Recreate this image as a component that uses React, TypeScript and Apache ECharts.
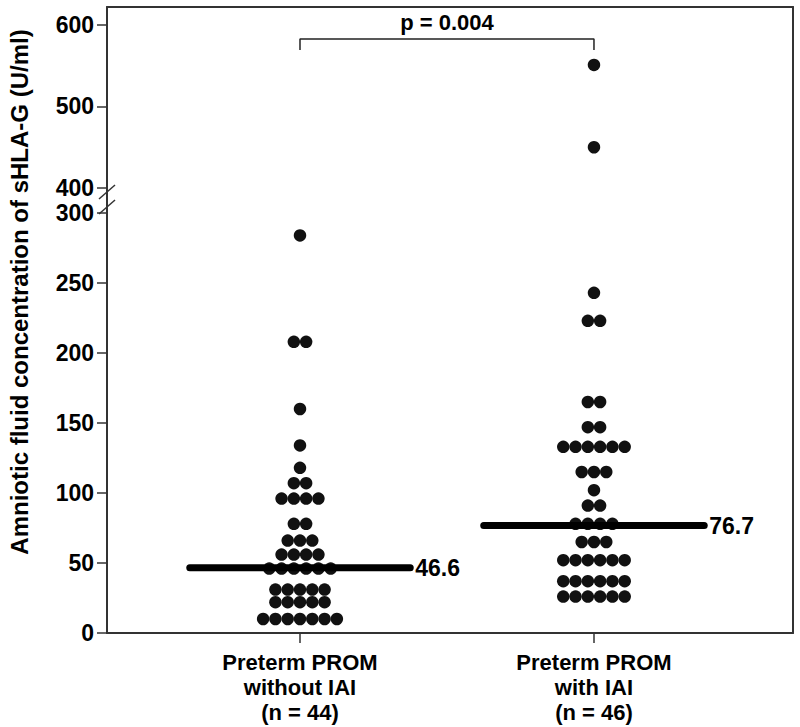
import React, { useEffect, useRef } from "react";
import * as echarts from "echarts";

// ---------- data ----------
const categories = [
  "Preterm PROM\nwithout IAI\n(n = 44)",
  "Preterm PROM\nwith IAI\n(n = 46)",
];
const groupWithoutIAI = [
  284, 208, 208, 160, 134, 118, 107, 107, 96, 96, 96, 96, 78, 78, 66, 66, 66,
  56, 56, 56, 56, 46, 46, 46, 46, 46, 46, 31, 31, 31, 31, 31, 22, 22, 22, 22,
  22, 10, 10, 10, 10, 10, 10, 10,
];
const groupWithIAI = [
  551, 450, 243, 223, 223, 165, 165, 147, 147, 133, 133, 133, 133, 133, 133,
  115, 115, 115, 102, 91, 91, 78, 78, 78, 78, 65, 65, 65, 52, 52, 52, 52, 52,
  52, 37, 37, 37, 37, 37, 37, 26, 26, 26, 26, 26, 26,
];
const medians = [46.6, 76.7];
const pValueText = "p = 0.004";
const upperTicks = [400, 500, 600];
const lowerTickInterval = 50;
const yTitle = "Amniotic fluid concentration of sHLA-G (U/ml)";

// ---------- layout constants ----------
const BREAK_LOW = 300;
const BREAK_HIGH = 400;
const UPPER_MIN = 369.3;
const UPPER_MAX = 622.1;
const X_MIN = 0.3435;
const X_MAX = 2.677;
const DOT_STEP = 0.0418;
const MEDIAN_HALF = 0.375;
const BRACKET_TOP = 582.8;
const BRACKET_BOTTOM = 569.3;
const FONT = "'Liberation Sans', Arial, Helvetica, sans-serif";
const AXIS_COLOR = "#333";

function swarm(values: number[], center: number): number[][] {
  const counts = new Map<number, number>();
  values.forEach((v) => counts.set(v, (counts.get(v) || 0) + 1));
  const pts: number[][] = [];
  counts.forEach((n, v) => {
    for (let i = 0; i < n; i++) pts.push([center + (i - (n - 1) / 2) * DOT_STEP, v]);
  });
  return pts;
}

const labelStyle = (size: number) => ({
  fontFamily: FONT,
  fontWeight: "bold" as const,
  fontSize: size,
  color: "#000",
});

export default function App() {
  const ref = useRef<HTMLDivElement>(null);

  useEffect(() => {
    document.body.style.margin = "0";
    if (!ref.current) return;
    const chart = echarts.init(ref.current, null, { renderer: "svg" });

    const allPts = [
      ...swarm(groupWithoutIAI, 1),
      ...swarm(groupWithIAI, 2),
    ];
    const lowerPts = allPts.filter((p) => p[1] <= BREAK_LOW);
    const upperPts = allPts.filter((p) => p[1] >= BREAK_HIGH);

    const lineAxis = { show: true, onZero: false, lineStyle: { color: AXIS_COLOR, width: 2 } };
    const dotStyle = { color: "#111", opacity: 1 };

    const option: any = {
      animation: false,
      textStyle: { fontFamily: FONT },
      grid: [
        { left: 107, right: 7, top: 7, height: 206 },
        { left: 107, right: 7, top: 213, height: 420 },
      ],
      xAxis: [
        {
          gridIndex: 0, type: "value", min: X_MIN, max: X_MAX, position: "top",
          axisLine: lineAxis, axisTick: { show: false }, axisLabel: { show: false },
          splitLine: { show: false },
        },
        {
          gridIndex: 1, type: "value", min: X_MIN, max: X_MAX, position: "bottom",
          axisLine: lineAxis,
          axisTick: { show: true, length: 10, customValues: [1, 2], lineStyle: { color: AXIS_COLOR, width: 1.5 } },
          axisLabel: {
            ...labelStyle(22), customValues: [1, 2], lineHeight: 25, margin: 17,
            formatter: (v: number) => categories[Math.round(v) - 1] || "",
          },
          splitLine: { show: false },
        },
      ],
      yAxis: [
        {
          gridIndex: 0, type: "value", min: UPPER_MIN, max: UPPER_MAX, position: "left",
          axisLine: lineAxis,
          axisTick: { show: true, length: 10, customValues: upperTicks, lineStyle: { color: AXIS_COLOR, width: 1.5 } },
          axisLabel: { ...labelStyle(23), customValues: upperTicks, margin: 13 },
          splitLine: { show: false },
        },
        {
          gridIndex: 1, type: "value", min: 0, max: BREAK_LOW, interval: lowerTickInterval, position: "left",
          axisLine: lineAxis,
          axisTick: { show: true, length: 10, lineStyle: { color: AXIS_COLOR, width: 1.5 } },
          axisLabel: { ...labelStyle(23), margin: 13 },
          splitLine: { show: false },
        },
        {
          gridIndex: 0, type: "value", min: UPPER_MIN, max: UPPER_MAX, position: "right",
          axisLine: lineAxis, axisTick: { show: false }, axisLabel: { show: false }, splitLine: { show: false },
        },
        {
          gridIndex: 1, type: "value", min: 0, max: BREAK_LOW, position: "right",
          axisLine: lineAxis, axisTick: { show: false }, axisLabel: { show: false }, splitLine: { show: false },
        },
      ],
      series: [
        {
          type: "scatter", xAxisIndex: 0, yAxisIndex: 0, data: upperPts,
          symbol: "circle", symbolSize: 12.5, itemStyle: dotStyle, silent: true,
        },
        {
          type: "scatter", xAxisIndex: 1, yAxisIndex: 1, data: lowerPts,
          symbol: "circle", symbolSize: 12.5, itemStyle: dotStyle, silent: true,
        },
        ...medians.map((m, i) => ({
          type: "line", xAxisIndex: 1, yAxisIndex: 1, symbol: "none", silent: true, z: 3,
          data: [[i + 1 - MEDIAN_HALF, m], [i + 1 + MEDIAN_HALF, m]],
          lineStyle: { color: "#000", width: 7, cap: "round" },
          endLabel: { show: true, ...labelStyle(23), distance: 5, formatter: () => m.toFixed(1) },
        })),
        {
          type: "line", xAxisIndex: 0, yAxisIndex: 0, symbol: "none", silent: true,
          data: [[1, BRACKET_BOTTOM], [1, BRACKET_TOP], [2, BRACKET_TOP], [2, BRACKET_BOTTOM]],
          lineStyle: { color: "#222", width: 1.5 },
        },
      ],
    };
    chart.setOption(option);

    const pMid = chart.convertToPixel({ xAxisIndex: 0, yAxisIndex: 0 } as any, [1.5, BRACKET_TOP]) as number[];
    const axisX = chart.convertToPixel({ xAxisIndex: 1 } as any, X_MIN) as number;
    const y400 = chart.convertToPixel({ yAxisIndex: 0 } as any, BREAK_HIGH) as number;
    const y300 = chart.convertToPixel({ yAxisIndex: 1 } as any, BREAK_LOW) as number;
    const slash = (cy: number) => ({
      type: "line",
      shape: { x1: axisX - 8, y1: cy + 7, x2: axisX + 8, y2: cy - 7 },
      style: { stroke: AXIS_COLOR, lineWidth: 1.5 },
    });

    chart.setOption({
      graphic: [
        {
          type: "text", x: pMid[0], y: pMid[1] - 17,
          style: { text: pValueText, fill: "#000", font: `bold 22px ${FONT}`, align: "center", verticalAlign: "middle" },
        },
        {
          type: "text", x: 19, y: 292, rotation: Math.PI / 2,
          style: { text: yTitle, fill: "#000", font: `bold 24px ${FONT}`, align: "center", verticalAlign: "middle" },
        },
        slash(y400 + 4),
        slash(y300 - 6),
      ],
    });

    return () => chart.dispose();
  }, []);

  return <div ref={ref} style={{ width: 800, height: 727 }} />;
}
